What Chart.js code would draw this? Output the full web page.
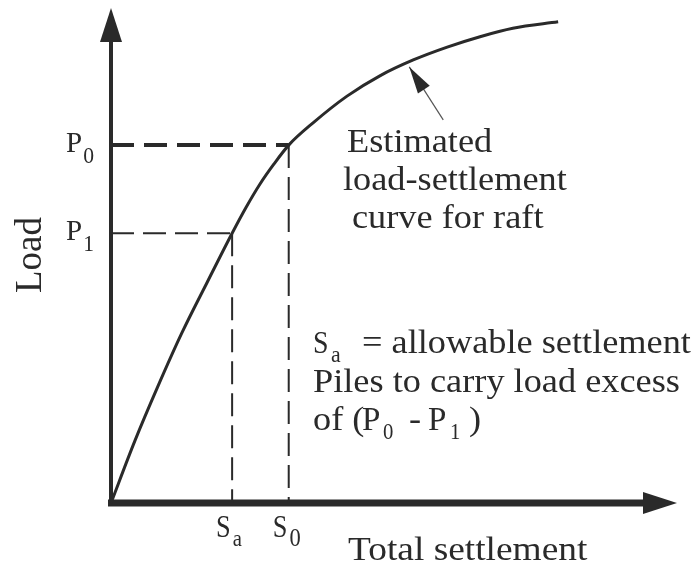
<!DOCTYPE html>
<html>
<head>
<meta charset="utf-8">
<script src="https://cdn.jsdelivr.net/npm/chart.js@4/dist/chart.umd.min.js"></script>
<style>
  body { margin: 0; background: #fff; }
  canvas { display: block; }
</style>
</head>
<body>
<canvas id="raftChart" width="697" height="564"></canvas>
<script>
// estimated load-settlement curve for the raft (arbitrary units, 0..100 on both axes)
const settlement = [0, 4.2, 8.3, 12.5, 17.0, 21.4, 23.9, 26.3, 28.8, 31.4, 35.7, 41.7, 47.5, 53.4, 59.4, 65.2, 71.0, 79.0];
const load       = [0, 12.5, 23.6, 34.3, 44.6, 54.5, 59.8, 64.4, 68.5, 72.3, 76.8, 82.2, 86.3, 89.5, 92.1, 94.2, 95.9, 97.2];

// marked values on the axes
const S_a = 21.4, S_0 = 31.4;
const P_1 = 54.5, P_0 = 72.3;
const loadTicks = [['P', '0', P_0], ['P', '1', P_1]];
const settlementTicks = [['S', 'a', S_a], ['S', '0', S_0]];

// pointer from the note to the curve
const pointerFrom = { x: 58.7, y: 77.4 };
const pointerTo   = { x: 52.7, y: 88.1 };

const INK = '#2a2a2a';
const SERIF = '"Liberation Serif", "Times New Roman", serif';

function txt(ctx, s, x, y, size, sx) {
  ctx.save();
  ctx.font = size + 'px ' + SERIF;
  ctx.translate(x, y);
  ctx.scale(sx || 1, 1);
  ctx.fillText(s, 0, 0);
  ctx.restore();
  ctx.font = size + 'px ' + SERIF;
  return ctx.measureText(s).width * (sx || 1);
}

function arrowHead(ctx, tip, from, len, half) {
  const dx = tip.x - from.x, dy = tip.y - from.y;
  const d = Math.hypot(dx, dy), ux = dx / d, uy = dy / d;
  const bx = tip.x - ux * len, by = tip.y - uy * len;
  ctx.beginPath();
  ctx.moveTo(tip.x, tip.y);
  ctx.lineTo(bx - uy * half, by + ux * half);
  ctx.lineTo(bx + uy * half, by - ux * half);
  ctx.closePath();
  ctx.fill();
}

const sketch = {
  id: 'sketch',
  beforeDatasetsDraw(chart) {
    const ctx = chart.ctx, a = chart.chartArea;
    ctx.save();
    ctx.strokeStyle = INK;
    ctx.fillStyle = INK;
    // y axis
    ctx.lineWidth = 4;
    ctx.beginPath(); ctx.moveTo(a.left, a.bottom + 3); ctx.lineTo(a.left, a.top + 32); ctx.stroke();
    arrowHead(ctx, { x: a.left, y: a.top }, { x: a.left, y: a.top + 50 }, 34, 11);
    // x axis
    ctx.lineWidth = 7;
    ctx.beginPath(); ctx.moveTo(a.left - 3, a.bottom); ctx.lineTo(a.right - 32, a.bottom); ctx.stroke();
    arrowHead(ctx, { x: a.right, y: a.bottom }, { x: a.right - 50, y: a.bottom }, 34, 11);
    ctx.restore();
  },
  afterDraw(chart) {
    const ctx = chart.ctx, xs = chart.scales.x, ys = chart.scales.y, a = chart.chartArea;
    ctx.save();
    ctx.fillStyle = INK;
    ctx.textBaseline = 'alphabetic';

    // pointer arrowhead
    const tip = { x: xs.getPixelForValue(pointerTo.x), y: ys.getPixelForValue(pointerTo.y) };
    const from = { x: xs.getPixelForValue(pointerFrom.x), y: ys.getPixelForValue(pointerFrom.y) };
    arrowHead(ctx, tip, from, 27, 7);

    // load ticks
    loadTicks.forEach(t => {
      const y = ys.getPixelForValue(t[2]);
      const w = txt(ctx, t[0], a.left - 45, y + 7, 29);
      txt(ctx, t[1], a.left - 45 + w + 1, y + 18, 24, 0.9);
    });
    // settlement ticks
    settlementTicks.forEach(t => {
      const x = xs.getPixelForValue(t[2]);
      const w = txt(ctx, t[0], x - 16, a.bottom + 34, 31, 0.85);
      txt(ctx, t[1], x - 16 + w + 2, a.bottom + 43, t[1] === 'a' ? 23 : 25, 0.9);
    });

    // axis titles
    ctx.save();
    ctx.translate(41, 255);
    ctx.rotate(-Math.PI / 2);
    ctx.textAlign = 'center';
    ctx.font = '37px ' + SERIF;
    ctx.fillText('Load', 0, 0);
    ctx.restore();
    txt(ctx, 'Total settlement', 348, 560, 34, 1.1);

    // note on the curve
    txt(ctx, 'Estimated', 347, 152, 33, 1.1);
    txt(ctx, 'load-settlement', 343, 190, 33, 1.1);
    txt(ctx, 'curve for raft', 352, 228, 33, 1.1);

    // note on piles
    txt(ctx, 'S', 313, 353, 31, 0.9);
    txt(ctx, 'a', 331, 362, 23, 0.95);
    txt(ctx, '= allowable settlement', 362, 353, 33, 1.1);
    txt(ctx, 'Piles to carry load excess', 313, 392, 33, 1.1);
    txt(ctx, 'of (', 313, 430, 33, 1.1);
    txt(ctx, 'P', 362, 430, 33, 1.0);
    txt(ctx, '0', 383, 439, 23, 0.9);
    txt(ctx, '-', 409, 430, 33, 1.1);
    txt(ctx, 'P', 428, 430, 33, 1.0);
    txt(ctx, '1', 450, 439, 23, 0.9);
    txt(ctx, ')', 469, 430, 33, 1.1);
    ctx.restore();
  }
};

function guide(points, width) {
  return {
    data: points, showLine: true, borderColor: INK, borderWidth: width,
    borderDash: width > 3 ? [23, 10] : [23, 9], pointRadius: 0, fill: false, clip: false
  };
}

document.addEventListener('DOMContentLoaded', function() {
  const ctx = document.getElementById('raftChart').getContext('2d');
  new Chart(ctx, {
    type: 'scatter',
    data: {
      datasets: [
        {
          data: settlement.map((s, i) => ({ x: s, y: load[i] })),
          showLine: true, borderColor: INK, borderWidth: 3, pointRadius: 0,
          tension: 0.4, cubicInterpolationMode: 'monotone', clip: false
        },
        guide([{ x: 0, y: P_0 }, { x: S_0, y: P_0 }], 4),
        guide([{ x: 0, y: P_1 }, { x: S_a, y: P_1 }], 2),
        guide([{ x: S_a, y: P_1 }, { x: S_a, y: 0 }], 2),
        guide([{ x: S_0, y: P_0 }, { x: S_0, y: 0 }], 2),
        {
          data: [pointerFrom, pointerTo], showLine: true, borderColor: '#555',
          borderWidth: 1.2, pointRadius: 0, clip: false
        }
      ]
    },
    options: {
      responsive: false,
      animation: false,
      devicePixelRatio: 1,
      layout: { padding: { left: 111, right: 20, top: 8, bottom: 61 } },
      plugins: { legend: { display: false }, tooltip: { enabled: false } },
      scales: {
        x: { type: 'linear', min: 0, max: 100, display: false },
        y: { type: 'linear', min: 0, max: 100, display: false }
      }
    },
    plugins: [sketch]
  });
});
</script>
</body>
</html>
